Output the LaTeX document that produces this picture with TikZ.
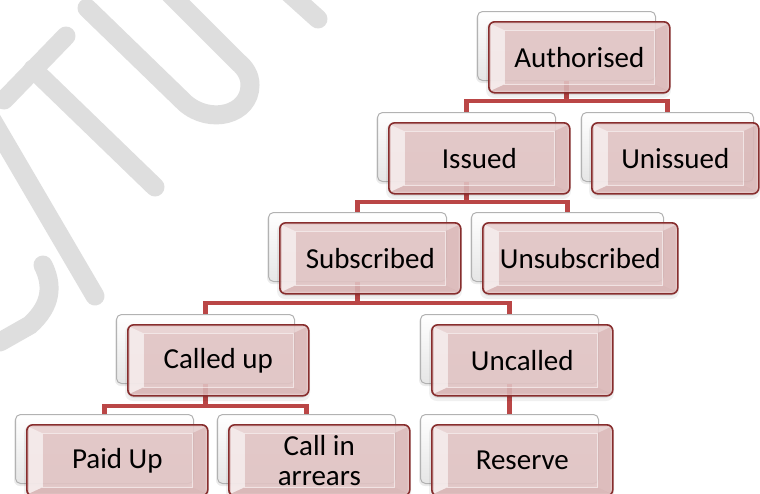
\documentclass[tikz,border=0pt]{standalone}
\usepackage{fontspec}
\setmainfont{Carlito}
\usetikzlibrary{calc}
\definecolor{boxfill}{RGB}{229,199,199}
\definecolor{boxborder}{RGB}{135,45,45}
\definecolor{connc}{RGB}{186,70,70}
\definecolor{wmark}{RGB}{222,222,222}
\definecolor{backdraw}{RGB}{178,178,178}

\newcommand\mybevel[1]{%
 \fill[white, opacity=0.6] ($(#1.north west)+(3,3)$) -- ($(#1.north west)+(16,9)$) -- ($(#1.south west)+(16,-9)$) -- ($(#1.south west)+(3,-3)$) -- cycle;
 \fill[white, opacity=0.22] ($(#1.north west)+(3,3)$) -- ($(#1.north east)+(-3,3)$) -- ($(#1.north east)+(-16,9)$) -- ($(#1.north west)+(16,9)$) -- cycle;
 \fill[boxborder, opacity=0.07] ($(#1.north east)+(-3,3)$) -- ($(#1.south east)+(-3,-3)$) -- ($(#1.south east)+(-16,-9)$) -- ($(#1.north east)+(-16,9)$) -- cycle;
 \fill[boxborder, opacity=0.10] ($(#1.south west)+(3,-3)$) -- ($(#1.south east)+(-3,-3)$) -- ($(#1.south east)+(-16,-9)$) -- ($(#1.south west)+(16,-9)$) -- cycle;
 \draw[white, opacity=0.55, line width=0.5pt] ($(#1.north west)+(16,9)$) rectangle ($(#1.south east)+(-16,-9)$);
}
\newcommand\mkfront[5]{%
 \fill[black, opacity=0.06, rounded corners=8pt] (#2-2,#3+1) rectangle ++(#4+4,76);
 \fill[black, opacity=0.08, rounded corners=7pt] (#2,#3+2) rectangle ++(#4,72);
 \node[frontbox, minimum width=#4, minimum height=71] (#1) at (#2,#3) {#5};
 \mybevel{#1}}
\newcommand\mkback[5]{%
 \fill[black, opacity=0.08, rounded corners=6pt] (#2-1,#3+2) rectangle ++(#4+1,#5+1);
 \node[backbox, minimum width=#4, minimum height=#5] (#1) at (#2,#3) {};}

\begin{document}
\begin{tikzpicture}[x=1pt,y=-1pt,
 backbox/.style={draw=backdraw, line width=1pt, rounded corners=5pt, top color=white, bottom color=black!10, anchor=north west, inner sep=0pt},
 frontbox/.style={draw=boxborder, line width=1.6pt, rounded corners=6pt, fill=boxfill, fill opacity=0.88, text opacity=1, anchor=north west, inner sep=0pt, align=center, font=\fontsize{29}{29.5}\selectfont},
 conn/.style={draw=connc, line width=4.5pt},
 wm/.style={draw=wmark, line width=19pt, line cap=round}]
\useasboundingbox (0,0) rectangle (760,493);
\clip (0,0) rectangle (760,493);
\fill[white] (0,0) rectangle (760,493);

% watermark
\draw[wm] (4,100) -- (66,36);
\draw[wm] (33,69) -- (155,187);
\draw[wm] (87,8) -- (185,103) .. controls (210,125) and (250,115) .. (250,85) .. controls (250,75) and (245,68) .. (238,62) -- (170,-6);
\draw[wm] (288,-8) -- (318,19);
\draw[wm] (-8,120) -- (95,296);
\draw[wm] (43,265) .. controls (53,285) and (52,305) .. (30,325) -- (0,342);

% back boxes
\mkback{auth-b}{477}{11}{178}{69}
\mkback{iss-b}{377}{112}{178}{69}
\mkback{uniss-b}{581}{112}{172}{69}
\mkback{subs-b}{268}{212}{178}{69}
\mkback{unsubs-b}{471}{212}{192}{69}
\mkback{calup-b}{116}{314}{178}{69}
\mkback{uncal-b}{420}{314}{178}{69}
\mkback{paid-b}{15}{414}{178}{69}
\mkback{arr-b}{217}{414}{178}{69}
\mkback{res-b}{420}{414}{178}{69}

% connectors
\draw[conn] (auth-b.south) -- (auth-b.south |- 0,101) -| (iss-b.north);
\draw[conn] (auth-b.south) -- (auth-b.south |- 0,101) -| (uniss-b.north);
\draw[conn] (iss-b.south) -- (iss-b.south |- 0,202) -| (subs-b.north);
\draw[conn] (iss-b.south) -- (iss-b.south |- 0,202) -| (unsubs-b.north);
\draw[conn] (subs-b.south) -- (subs-b.south |- 0,303) -| (calup-b.north);
\draw[conn] (subs-b.south) -- (subs-b.south |- 0,303) -| (uncal-b.north);
\draw[conn] (calup-b.south) -- (calup-b.south |- 0,406) -| (paid-b.north);
\draw[conn] (calup-b.south) -- (calup-b.south |- 0,406) -| (arr-b.north);
\draw[conn] (uncal-b.south) -- (res-b.north);

% front boxes
\mkfront{auth}{488}{21}{181}{Authorised}
\mkfront{iss}{388}{122}{181}{Issued}
\mkfront{uniss}{591}{122}{167}{Unissued}
\mkfront{subs}{279}{222}{181}{Subscribed}
\mkfront{unsubs}{482}{222}{195}{Unsubscribed}
\mkfront{calup}{127}{324}{181}{Called up}
\mkfront{uncal}{431}{324}{181}{Uncalled}
\mkfront{paid}{26}{424}{181}{Paid Up}
\mkfront{arr}{228}{424}{181}{Call in\\arrears}
\mkfront{res}{431}{424}{181}{Reserve}
\end{tikzpicture}
\end{document}
